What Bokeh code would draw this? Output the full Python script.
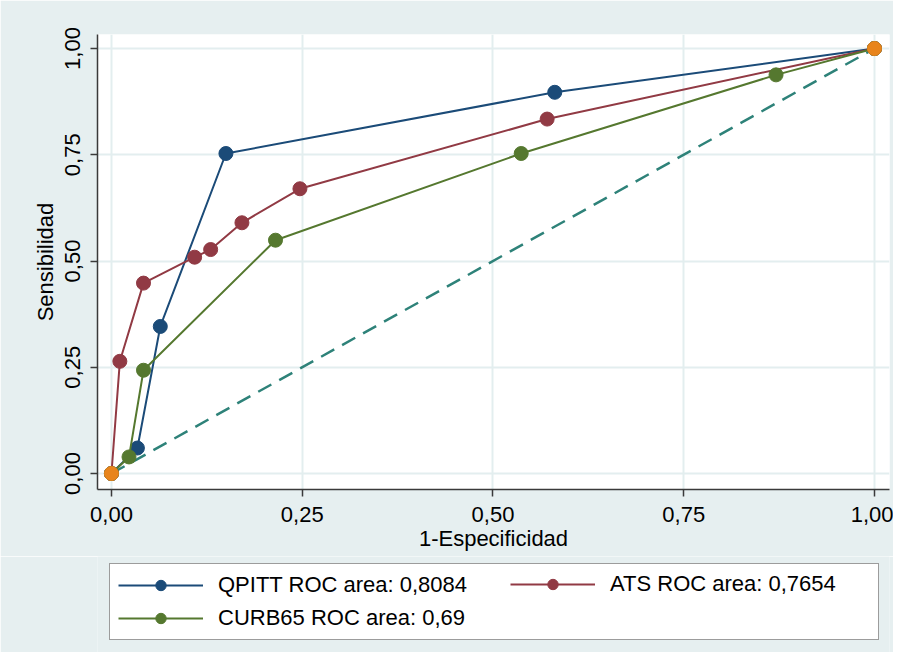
from bokeh.plotting import figure
from bokeh.models import Range1d, FixedTicker, Legend, LegendItem
from bokeh.layouts import column
from bokeh.embed import file_html
from bokeh.resources import INLINE

# Data
qpitt_x = [0.0, 0.034, 0.064, 0.150, 0.581, 1.0]
qpitt_y = [0.0, 0.060, 0.346, 0.753, 0.897, 1.0]

ats_x = [0.0, 0.011, 0.042, 0.109, 0.130, 0.171, 0.247, 0.571, 1.0]
ats_y = [0.0, 0.264, 0.448, 0.509, 0.527, 0.590, 0.670, 0.834, 1.0]

curb_x = [0.0, 0.023, 0.042, 0.215, 0.537, 0.871, 1.0]
curb_y = [0.0, 0.039, 0.243, 0.549, 0.753, 0.938, 1.0]

ref_x = [0.0, 1.0]
ref_y = [0.0, 1.0]

tick_vals = [0.0, 0.25, 0.5, 0.75, 1.0]
tick_labels = ["0,00", "0,25", "0,50", "0,75", "1,00"]

labels = ["QPITT ROC area: 0,8084", "ATS ROC area: 0,7654", "CURB65 ROC area: 0,69"]

BLUE = "#1B4B78"
RED = "#913A44"
GREEN = "#55782F"
ORANGE = "#E8841C"
TEAL = "#2E8279"
BG = "#E6EFF0"
FONT = "Liberation Sans"
FS = "22px"

W = 893
H1 = 556
H2 = 96

p = figure(width=W, height=H1, output_backend="svg", toolbar_location=None,
           x_range=Range1d(-0.0183, 1.0197), y_range=Range1d(-0.0376, 1.033),
           min_border_left=97, min_border_right=4, min_border_top=34, min_border_bottom=67)

p.border_fill_color = BG
p.background_fill_color = "white"
p.outline_line_color = None

for ax in (p.xaxis[0], p.yaxis[0]):
    ax.ticker = FixedTicker(ticks=tick_vals)
    ax.major_label_overrides = {v: l for v, l in zip(tick_vals, tick_labels)}
    ax.axis_line_color = "#3a3a3a"
    ax.axis_line_width = 1.5
    ax.major_tick_line_color = "#3a3a3a"
    ax.major_tick_line_width = 1.5
    ax.major_tick_out = 7
    ax.major_tick_in = 0
    ax.minor_tick_line_color = None
    ax.major_label_text_font = FONT
    ax.major_label_text_font_size = FS
    ax.major_label_text_color = "black"
    ax.axis_label_text_font = FONT
    ax.axis_label_text_font_size = FS
    ax.axis_label_text_font_style = "normal"
    ax.axis_label_text_color = "black"

p.xaxis.axis_label = "1-Especificidad"
p.yaxis.axis_label = "Sensibilidad"
p.xaxis.major_label_standoff = 10
p.yaxis.major_label_standoff = 10
p.xaxis.axis_label_standoff = 1
p.yaxis.axis_label_standoff = 5
p.yaxis.major_label_orientation = "vertical"

p.xgrid.ticker = FixedTicker(ticks=tick_vals)
p.ygrid.ticker = FixedTicker(ticks=tick_vals)
p.grid.grid_line_color = "#E3EEEF"
p.grid.grid_line_width = 2

# reference line
p.line(ref_x, ref_y, line_color=TEAL, line_width=2.5, line_dash="15 9")

p.line(qpitt_x, qpitt_y, line_color=BLUE, line_width=2)
p.scatter(qpitt_x, qpitt_y, size=14, fill_color=BLUE, line_color=BLUE)
p.line(ats_x, ats_y, line_color=RED, line_width=2)
p.scatter(ats_x, ats_y, size=14, fill_color=RED, line_color=RED)
p.line(curb_x, curb_y, line_color=GREEN, line_width=2)
p.scatter(curb_x, curb_y, size=14, fill_color=GREEN, line_color=GREEN)

p.scatter(ref_x, ref_y, size=14, fill_color=ORANGE, line_color=ORANGE)

# Legend strip (a second figure whose ranges keep its renderers out of view)
q = figure(width=W, height=H2, output_backend="svg", toolbar_location=None,
           x_range=Range1d(10, 11), y_range=Range1d(10, 11),
           x_axis_location=None, y_axis_location=None,
           min_border_left=97, min_border_right=4, min_border_top=0, min_border_bottom=0)
q.border_fill_color = BG
q.background_fill_color = BG
q.outline_line_color = None
q.grid.visible = False

ql1 = q.line(qpitt_x, qpitt_y, line_color=BLUE, line_width=2)
qs1 = q.scatter(qpitt_x, qpitt_y, size=14, fill_color=BLUE, line_color=BLUE)
ql2 = q.line(ats_x, ats_y, line_color=RED, line_width=2)
qs2 = q.scatter(ats_x, ats_y, size=14, fill_color=RED, line_color=RED)
ql3 = q.line(curb_x, curb_y, line_color=GREEN, line_width=2)
qs3 = q.scatter(curb_x, curb_y, size=14, fill_color=GREEN, line_color=GREEN)

common = dict(orientation="vertical", padding=8, spacing=7, glyph_width=85, glyph_height=26,
              label_height=26, label_standoff=15, label_text_font=FONT,
              label_text_font_size=FS, label_text_color="black", margin=0)

leg1 = Legend(items=[LegendItem(label=labels[0], renderers=[ql1, qs1]),
                     LegendItem(label=labels[2], renderers=[ql3, qs3])],
              location=(12, 12), label_width=652,
              border_line_color="#3a3a3a", border_line_width=1.5,
              background_fill_color="white", background_fill_alpha=1.0, **common)
leg2 = Legend(items=[LegendItem(label=labels[1], renderers=[ql2, qs2])],
              location=(413, 55), label_width=200,
              border_line_color=None, background_fill_alpha=0.0, **common)
q.add_layout(leg1)
q.add_layout(leg2)

layout = column(p, q, spacing=0)
open("out.html", "w").write(file_html(layout, INLINE))
